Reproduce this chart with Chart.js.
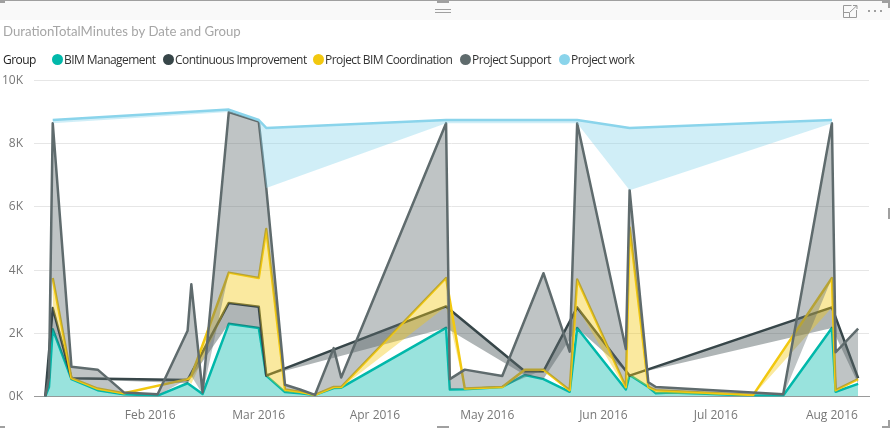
<!DOCTYPE html>
<html>
<head>
<meta charset="utf-8">
<title>DurationTotalMinutes by Date and Group</title>
<script src="https://cdn.jsdelivr.net/npm/chart.js@4"></script>
<style>
    html, body { margin: 0; padding: 0; background: #fff; }
    #wrap { position: relative; width: 890px; height: 428px; overflow: hidden; font-family: "Open Sans", sans-serif; }
    #wrap canvas { position: absolute; left: 0; top: 0; }
    #topBand { position: absolute; left: 0; top: 1px; width: 890px; height: 19px; background: #f9f9f9; }
    #chartTitle { position: absolute; left: 3px; top: 23px; font-family: Lato, sans-serif; font-size: 13.2px; color: #a6a6a6; white-space: nowrap; }
    #legend { position: absolute; left: 0; top: 51px; height: 18px; font-size: 12px; letter-spacing: -0.55px; color: #333; }
    #legend span { position: absolute; top: 0; white-space: nowrap; line-height: 18px; }
    #legend i { position: absolute; top: 3px; width: 11px; height: 11px; border-radius: 50%; }
    .handle { position: absolute; background: #a0a0a0; }
    #focusIcon { position: absolute; left: 843px; top: 5px; }
</style>
</head>
<body>
<div id="wrap">
    <div id="topBand"></div>
    <div class="handle" style="left:0;top:0;width:890px;height:1px"></div>
    <canvas id="durationChart" width="890" height="428"></canvas>
    <div id="chartTitle">DurationTotalMinutes by Date and Group</div>
    <div id="legend"></div>
    <!-- Marcas del marco del visual -->
    <div class="handle" style="left:0;top:0;width:5px;height:3px"></div>
    <div class="handle" style="left:437px;top:0;width:12px;height:3px"></div>
    <div class="handle" style="left:435px;top:9px;width:16px;height:1px"></div>
    <div class="handle" style="left:435px;top:12px;width:16px;height:1px"></div>
    <div class="handle" style="left:437px;top:426px;width:12px;height:2px"></div>
    <div class="handle" style="left:0;top:426px;width:5px;height:2px"></div>
    <div class="handle" style="left:888px;top:208px;width:2px;height:11px"></div>
    <div class="handle" style="left:882px;top:0;width:8px;height:3px"></div>
    <div class="handle" style="left:888px;top:0;width:2px;height:8px"></div>
    <div class="handle" style="left:882px;top:426px;width:8px;height:2px"></div>
    <div class="handle" style="left:888px;top:420px;width:2px;height:8px"></div>
    <svg id="focusIcon" width="15" height="13" viewBox="0 0 15 13" fill="none" stroke="#999" stroke-width="1">
        <path d="M8.5 0.5H0.5V12.5H13.5V5"/>
        <path d="M0.5 7.5H6.5V12.5"/>
        <path d="M7 7L14 0.5M10 0.5H14V4"/>
    </svg>
    <div class="handle" style="left:868px;top:10px;width:2px;height:2px"></div>
    <div class="handle" style="left:874px;top:10px;width:2px;height:2px"></div>
    <div class="handle" style="left:880px;top:10px;width:2px;height:2px"></div>
</div>

<script>
    // Grupos en el orden de la leyenda
    const groups = ['BIM Management', 'Continuous Improvement', 'Project BIM Coordination', 'Project Support', 'Project work'];
    const groupColors = ['#01b8aa', '#374649', '#f2c80f', '#5f6b6d', '#8ad4eb'];
    const legendX = [52, 163, 313, 460, 559];

    const monthTicks = ['2016-02-01', '2016-03-01', '2016-04-01', '2016-05-01', '2016-06-01', '2016-07-01', '2016-08-01'];
    const monthLabels = ['Feb 2016', 'Mar 2016', 'Apr 2016', 'May 2016', 'Jun 2016', 'Jul 2016', 'Aug 2016'];
    const yTicks = [0, 2000, 4000, 6000, 8000, 10000];

    // Cada grupo: fechas, borde superior y borde inferior del area apilada
    const bimDates = ['2016-01-04', '2016-01-05', '2016-01-06', '2016-01-11', '2016-01-18', '2016-01-25', '2016-02-03', '2016-02-11', '2016-02-15', '2016-02-22', '2016-03-01', '2016-03-03', '2016-03-08', '2016-03-12', '2016-03-16', '2016-03-21', '2016-03-23', '2016-04-20', '2016-04-21', '2016-04-25', '2016-05-05', '2016-05-11', '2016-05-16', '2016-05-23', '2016-05-25', '2016-06-07', '2016-06-08', '2016-06-13', '2016-06-15', '2016-06-19', '2016-07-11', '2016-07-19', '2016-08-01', '2016-08-02', '2016-08-08'];
    const bimTop = [0, 300, 2130, 550, 200, 70, 30, 420, 80, 2300, 2170, 660, 140, 100, 50, 270, 280, 2170, 220, 230, 300, 680, 550, 150, 2170, 220, 680, 300, 100, 130, 30, 30, 2170, 150, 400];
    const bimBase = [0, 0, 0, 0, 0, 0, 0, 0, 0, 0, 0, 0, 0, 0, 0, 0, 0, 0, 0, 0, 0, 0, 0, 0, 0, 0, 0, 0, 0, 0, 0, 0, 0, 0, 0];

    const ciDates = ['2016-01-04', '2016-01-06', '2016-01-11', '2016-02-11', '2016-02-22', '2016-03-01', '2016-03-03', '2016-04-20', '2016-05-11', '2016-05-16', '2016-05-25', '2016-06-08', '2016-08-01', '2016-08-08'];
    const ciTop = [0, 2800, 580, 520, 2960, 2840, 660, 2850, 800, 800, 2820, 660, 2820, 580];
    const ciBase = [0, 2130, 550, 420, 2300, 2170, 660, 2170, 680, 550, 2170, 680, 2170, 400];

    const coordDates = ['2016-01-06', '2016-01-11', '2016-01-18', '2016-01-25', '2016-02-11', '2016-02-12', '2016-02-22', '2016-03-01', '2016-03-03', '2016-03-08', '2016-03-12', '2016-03-16', '2016-03-21', '2016-03-23', '2016-04-20', '2016-04-25', '2016-05-05', '2016-05-11', '2016-05-16', '2016-05-23', '2016-05-25', '2016-06-07', '2016-06-08', '2016-06-13', '2016-06-15', '2016-07-11', '2016-08-01', '2016-08-02', '2016-08-08'];
    const coordTop = [3750, 580, 250, 100, 550, 650, 3920, 3750, 5300, 220, 150, 50, 300, 300, 3750, 250, 300, 850, 850, 200, 3700, 300, 5350, 300, 200, 50, 3750, 200, 550];
    const coordBase = [2800, 580, 200, 70, 520, 400, 2960, 2840, 660, 140, 100, 50, 270, 280, 2850, 230, 300, 800, 800, 150, 2820, 220, 660, 300, 100, 30, 2820, 150, 550];

    const supportDates = ['2016-01-04', '2016-01-05', '2016-01-06', '2016-01-11', '2016-01-18', '2016-01-25', '2016-02-03', '2016-02-11', '2016-02-12', '2016-02-15', '2016-02-22', '2016-03-01', '2016-03-03', '2016-03-08', '2016-03-12', '2016-03-16', '2016-03-21', '2016-03-23', '2016-04-20', '2016-04-21', '2016-04-25', '2016-05-05', '2016-05-16', '2016-05-23', '2016-05-25', '2016-06-07', '2016-06-08', '2016-06-13', '2016-06-15', '2016-07-19', '2016-08-01', '2016-08-02', '2016-08-08'];
    const supportTop = [0, 600, 8650, 940, 850, 130, 70, 2080, 3550, 130, 9000, 8700, 6600, 370, 220, 50, 1530, 600, 8650, 550, 850, 650, 3900, 1420, 8650, 1500, 6530, 450, 300, 70, 8650, 1400, 2150];
    const supportBase = [0, 300, 3750, 580, 250, 100, 30, 550, 650, 80, 3920, 3750, 5300, 220, 150, 50, 300, 300, 3750, 220, 250, 300, 850, 200, 3700, 300, 5350, 300, 200, 30, 3750, 200, 550];

    const workDates = ['2016-01-06', '2016-02-22', '2016-03-01', '2016-03-03', '2016-04-20', '2016-05-25', '2016-06-08', '2016-08-01'];
    const workTop = [8750, 9080, 8750, 8500, 8750, 8750, 8500, 8750];
    const workBase = [8650, 9000, 8700, 6600, 8650, 8650, 6530, 8650];

    const allDates = [bimDates, ciDates, coordDates, supportDates, workDates];
    const allTop = [bimTop, ciTop, coordTop, supportTop, workTop];
    const allBase = [bimBase, ciBase, coordBase, supportBase, workBase];

    /**
     * Convierte una fecha ISO en dias desde el 1 de enero de 2016.
     * @param {string} iso - Fecha ISO.
     * @returns {number} Dias transcurridos.
     */
    function dayNumber(iso) {
        return (Date.parse(iso + 'T00:00:00Z') - Date.UTC(2016, 0, 1)) / 86400000;
    }

    function toPoints(dates, values) {
        return dates.map((d, i) => ({ x: dayNumber(d), y: values[i] }));
    }

    function withAlpha(hex, alpha) {
        const n = parseInt(hex.slice(1), 16);
        return `rgba(${n >> 16}, ${(n >> 8) & 255}, ${n & 255}, ${alpha})`;
    }

    // Cada grupo usa dos datasets: el borde inferior invisible y la linea con relleno hasta el
    const datasets = [];
    groups.forEach((name, i) => {
        datasets.push({
            label: name + ' base',
            data: toPoints(allDates[i], allBase[i]),
            borderWidth: 0,
            borderColor: 'transparent',
            pointRadius: 0,
            fill: false,
            tension: 0,
            order: 10 - i
        });
        datasets.push({
            label: name,
            data: toPoints(allDates[i], allTop[i]),
            borderColor: groupColors[i],
            backgroundColor: withAlpha(groupColors[i], 0.4),
            borderWidth: 2.5,
            borderJoinStyle: 'round',
            pointRadius: 0,
            fill: '-1',
            tension: 0,
            order: 10 - i
        });
    });

    // Leyenda
    const legendBox = document.getElementById('legend');
    legendBox.innerHTML = '<span style="left:3px;color:#222">Group</span>' + groups.map((name, i) =>
        `<i style="left:${legendX[i]}px;background:${groupColors[i]}"></i><span style="left:${legendX[i] + 12}px">${name}</span>`
    ).join('');

    new Chart(document.getElementById('durationChart').getContext('2d'), {
        type: 'line',
        data: { datasets: datasets },
        options: {
            responsive: false,
            animation: false,
            layout: { padding: { top: 80.5, right: 21, left: 0, bottom: 0 } },
            plugins: {
                legend: { display: false },
                title: { display: false },
                tooltip: { enabled: false }
            },
            scales: {
                x: {
                    type: 'linear',
                    min: 0,
                    max: 222.9,
                    grid: { display: false },
                    border: { color: '#9a9a9a', width: 1 },
                    afterBuildTicks: (axis) => { axis.ticks = monthTicks.map((d) => ({ value: dayNumber(d) })); },
                    afterFit: (axis) => { axis.height = 31.5; },
                    ticks: {
                        autoSkip: false,
                        maxRotation: 0,
                        padding: 4,
                        color: '#777',
                        font: { family: 'Open Sans', size: 12 },
                        callback: (value) => monthLabels[monthTicks.findIndex((d) => dayNumber(d) === value)]
                    }
                },
                y: {
                    min: 0,
                    max: 10000,
                    grid: { color: '#e6e6e6', drawTicks: false, lineWidth: 1 },
                    border: { display: false },
                    afterBuildTicks: (axis) => { axis.ticks = yTicks.map((v) => ({ value: v })); },
                    afterFit: (axis) => { axis.width = 34; },
                    ticks: {
                        padding: 11,
                        color: '#777',
                        font: { family: 'Open Sans', size: 12 },
                        callback: (value) => (value / 1000) + 'K'
                    }
                }
            }
        }
    });
</script>
</body>
</html>
